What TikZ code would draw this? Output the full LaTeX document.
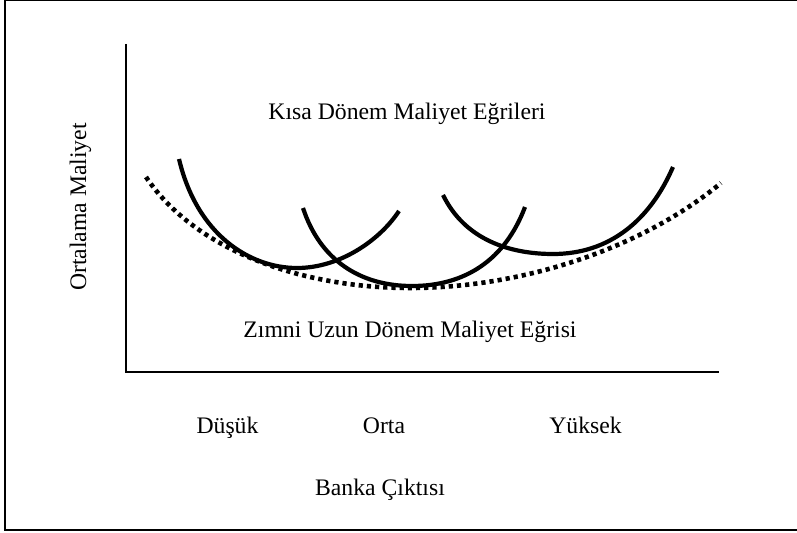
\documentclass[tikz,border=0pt]{standalone}
\usepackage{fontspec}
\setmainfont{Liberation Serif}
\usetikzlibrary{calc}

\tikzset{
  lbl/.style={inner sep=0pt,anchor=base,font=\fontsize{23.7bp}{28bp}\selectfont},
  axis/.style={line width=2.4bp},
  srac/.style={line width=4.2bp},
  lrac/.style={line width=4.6bp,dash pattern=on 4.2bp off 4bp}
}

\begin{document}
\begin{tikzpicture}[x=1bp,y=-1bp]
          \useasboundingbox (0,0) rectangle (797,533);
          \draw[line width=2bp] (4.5,0) rectangle (800,530);
          \coordinate (Ytop) at (126,44);
          \coordinate (O) at (126,372);
          \coordinate (Xend) at (719,372);
          \draw[axis] (Ytop) -- (O) -- (Xend);
          \draw[srac] (179,159) .. controls (197,235) and (250,268) .. (297,268)
                                .. controls (340,268) and (380,240) .. (399,211);
          \draw[srac] (303,208) .. controls (320,260) and (360,286) .. (412,286)
                                .. controls (465,286) and (505,260) .. (525,207);
          \draw[srac] (443,195) .. controls (465,240) and (510,254) .. (553,254)
                                .. controls (610,254) and (650,220) .. (673,167);
          \draw[lrac] (146,177) .. controls (195,250) and (300,288) .. (410,288)
                                .. controls (520,288) and (640,250) .. (721,183);
          \node[lbl] (SR) at (407,120) {Kısa Dönem Maliyet Eğrileri};
          \node[lbl] (LR) at (410,337) {Zımni Uzun Dönem Maliyet Eğrisi};
          \node[lbl,rotate=90] (YL) at (86,207) {Ortalama Maliyet};
          \node[lbl] (Low) at (227.5,433) {Düşük};
          \node[lbl] (Mid) at (384,433) {Orta};
          \node[lbl] (High) at (585.5,433) {Yüksek};
          \node[lbl] (XL) at (380,495) {Banka Çıktısı};
        \end{tikzpicture}
\end{document}
